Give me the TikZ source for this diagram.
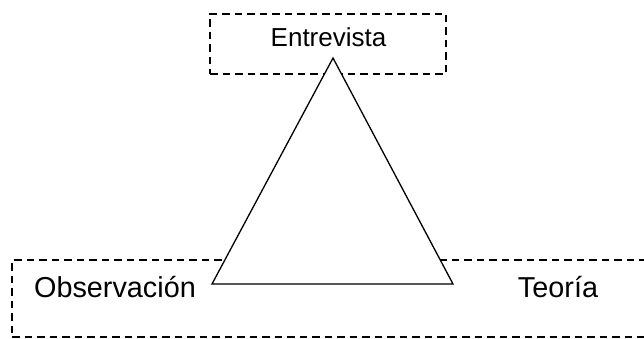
\documentclass[tikz,border=0pt]{standalone}
\usepackage{fontspec}
\setmainfont{Liberation Sans}
\usetikzlibrary{positioning}

\begin{document}
\begin{tikzpicture}[
    x=1pt, y=-1pt,
    dashbox/.style={draw, dash pattern=on 7.5pt off 5pt, line width=2pt, inner sep=0pt},
    lbl/.style={anchor=base, inner sep=0pt, font=\fontsize{28.8}{34}\selectfont},
    toplbl/.style={lbl, font=\fontsize{26}{31}\selectfont},
    tri/.style={draw, fill=white, line width=1.3pt, line join=miter}
  ]
    \useasboundingbox (0,0) rectangle (644,339);
    \clip (0,0) rectangle (644,339);
    \node[dashbox, minimum width=236pt, minimum height=60pt] (top) at (328,44) {};
    \node[dashbox, minimum width=660pt, minimum height=77pt] (bottom) at (342,298.5) {};
    \node[toplbl] (entrevista) at (328.5,47) {Entrevista};
    \node[lbl] (observacion) at (115,297) {Observación};
    \node[lbl] (teoria) at (558,297) {Teoría};
    \coordinate (apex) at (333,58);
    \coordinate (left) at (212,284);
    \coordinate (right) at (453,284);
    \draw[tri] (apex) -- (left) -- (right) -- cycle;
  \end{tikzpicture}
\end{document}
